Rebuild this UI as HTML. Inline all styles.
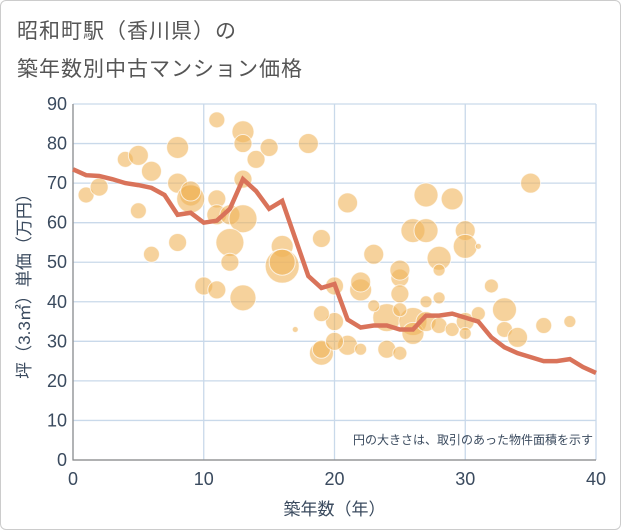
<!DOCTYPE html>
<html><head><meta charset="utf-8"><style>
body{margin:0;background:#fff;font-family:"Liberation Sans","Noto Sans CJK JP",sans-serif;}
#wrap{position:relative;width:619px;height:528px;border:1px solid #ccc;border-radius:6px;overflow:hidden;background:#fff}
.title{position:absolute;left:16px;font-size:21px;color:#555;letter-spacing:1px}
</style></head><body>
<div id="wrap">
<div class="title" style="top:14px">昭和町駅（香川県）の</div>
<div class="title" style="top:52px">築年数別中古マンション価格</div>
<svg id="chart" width="621" height="530" style="position:absolute;left:-1px;top:-1px"></svg>
</div>
<script>
const xTicks=[0,10,20,30,40];
const yTicks=[0,10,20,30,40,50,60,70,80,90];
const bubbleX=[1,2,4,5,5,6,6,8,8,8,9,9,9,10,11,11,13,13,14,15,13,11,11,12,13,12,12,13,16,16,16,18,21,19,23,26,27,27,28,29,30,30,35,32,33,33,34,36,38,25,25,28,28,20,20,22,22,19,19,19,21,22,20,24,25,24,26,25,26,27,28,29,30,30,31,23,25,27,17,31];
const bubbleY=[67,69,76,77,63,73,52,79,70,55,67,66,68,44,43,86,83,80,76,79,71,66,62,62,61,55,50,41,54,49,50,80,65,56,52,58,67,58,51,66,58,54,70,44,38,33,31,34,35,46,48,41,48,44,35,43,45,37,27,28,29,28,30,28,27,36,35,42,32,35,34,33,35,32,37,39,38,40,33,54];
const bubbleR=[8,9,8,10,8,10,8,11,10,9,11,14,10,9,9,8,11,9,9,9,9,9,10,10,14,14,9,13,11,17,13,10,10,9,10,12,12,12,12,11,10,12,10,7,12,8,10,8,6,9,10,6,6,9,9,11,10,8,12,9,10,6,9,9,7,14,14,9,11,10,8,7,9,6,7,6,7,6,3,3];
const lineX=[0,1,2,3,4,5,6,7,8,9,10,11,12,13,14,15,16,17,18,19,20,21,22,23,24,25,26,27,28,29,30,31,32,33,34,35,36,37,38,39,40];
const lineY=[73.5,72,71.8,71,70,69.5,68.8,67,62,62.5,60,60.5,63.5,71,68,63.5,65.5,56,46.5,43.5,44.5,35.5,33.5,34,34,33,33,36.5,36.5,37,36,35,31,28.5,27,26,25,25,25.5,23.5,22];
const X0=73,X1=596,Y0=460,Y1=104;
const TXT='#3a4a5e';
const sx=v=>X0+(X1-X0)*v/40, sy=v=>Y0-(Y0-Y1)*v/90;
const svg=document.getElementById('chart');const NS='http://www.w3.org/2000/svg';
function mk(t,a,p){const e=document.createElementNS(NS,t);for(const k in a)e.setAttribute(k,a[k]);(p||svg).appendChild(e);return e;}
yTicks.forEach(v=>{const l=mk('line',{x1:X0,x2:X1,y1:sy(v),y2:sy(v),stroke:'#c9d9ea','stroke-width':1.3});


const t=mk('text',{x:X0-6,y:sy(v)+6,'text-anchor':'end','font-size':18,fill:TXT});t.textContent=v;

});
xTicks.forEach(v=>{const l=mk('line',{x1:sx(v),x2:sx(v),y1:Y1,y2:Y0,stroke:'#c9d9ea','stroke-width':1.3});


const t=mk('text',{x:sx(v),y:Y0+25,'text-anchor':'middle','font-size':18,fill:TXT});t.textContent=v;

});
const ax=mk('path',{d:`M${X0} ${Y1}V${Y0}H${X1}`,stroke:'#888',fill:'none','stroke-width':1.2});


bubbleX.forEach((v,i)=>{const c=mk('circle',{cx:sx(v),cy:sy(bubbleY[i]),r:bubbleR[i],fill:'rgba(240,180,90,0.6)',stroke:'rgba(255,255,255,0.7)','stroke-width':1});

});
const p=mk('polyline',{points:lineX.map((v,i)=>sx(v)+','+sy(lineY[i])).join(' '),fill:'none',stroke:'#d9735a','stroke-width':4.5,'stroke-linejoin':'miter'});


const xt=mk('text',{x:(X0+X1)/2,y:515,'text-anchor':'middle','font-size':17,fill:TXT});xt.textContent='築年数（年）';


const yt=mk('text',{x:0,y:0,'text-anchor':'middle','font-size':17,fill:TXT,transform:`translate(30,${(Y0+Y1)/2}) rotate(-90)`});yt.textContent='坪（3.3㎡）単価（万円）';


const an=mk('text',{x:593,y:444,'text-anchor':'end','font-size':12,fill:TXT});an.textContent='円の大きさは、取引のあった物件面積を示す';


</script>
</body></html>
